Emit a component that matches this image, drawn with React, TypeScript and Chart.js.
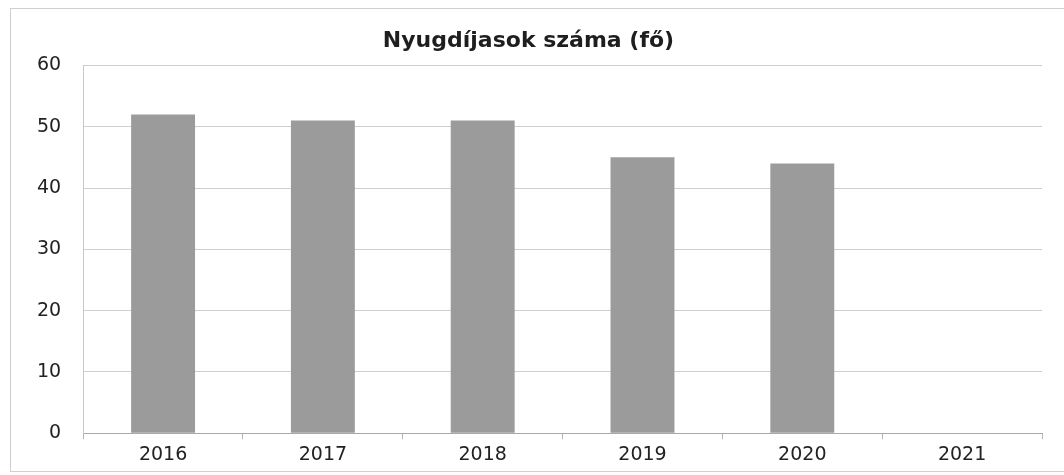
import React, { useEffect, useRef } from "react";
import { Chart, registerables } from "chart.js";

Chart.register(...registerables);

const categories = ["2016", "2017", "2018", "2019", "2020", "2021"];
const pensioners = [52, 51, 51, 45, 44, null];
const yTicks = [0, 10, 20, 30, 40, 50, 60];
const titleText = "Nyugdíjasok száma (fő)";

export default function App() {
  const ref = useRef<HTMLCanvasElement | null>(null);

  useEffect(() => {
    if (!ref.current) return;
    const chart = new Chart(ref.current, {
      type: "bar",
      data: {
        labels: categories,
        datasets: [
          {
            label: titleText,
            data: pensioners as any,
            backgroundColor: "#9b9b9b",
            borderWidth: 0,
            barPercentage: 0.8,
            categoryPercentage: 0.5,
          },
        ],
      },
      options: {
        animation: false,
        responsive: false,
        maintainAspectRatio: false,
        layout: { padding: { left: 15, right: 22, top: 28, bottom: 5 } },
        plugins: {
          legend: { display: false },
          tooltip: { enabled: false },
          title: {
            display: true,
            text: titleText,
            color: "#1e1e1e",
            font: { family: "'DejaVu Sans', sans-serif", size: 22, weight: "bold" },
            padding: { top: 0, bottom: 11 },
          },
        },
        scales: {
          x: {
            grid: {
              display: true,
              drawOnChartArea: false,
              drawTicks: true,
              tickLength: 6,
              color: "#b5b5b5",
              offset: true,
            },
            border: { display: true, color: "#a8a8a8" },
            ticks: {
              color: "#222",
              font: { family: "'DejaVu Sans', sans-serif", size: 19 },
              padding: 4,
            },
          },
          y: {
            min: 0,
            max: 60,
            afterBuildTicks: (axis: any) => {
              axis.ticks = yTicks.map((v) => ({ value: v }));
            },
            grid: { color: "#cfcfcf", drawTicks: false },
            border: { display: true, color: "#c8c8c8" },
            ticks: {
              color: "#222",
              font: { family: "'DejaVu Sans', sans-serif", size: 19 },
              padding: 22,
            },
          },
        },
      },
    });
    return () => chart.destroy();
  }, []);

  return (
    <div style={{ position: "absolute", left: 0, top: 0, width: 1064, height: 475, background: "#fff" }}>
      <div
        style={{
          position: "absolute",
          left: 10,
          top: 8,
          width: 1060,
          height: 462,
          borderLeft: "1px solid #cfcfcf",
          borderTop: "1px solid #cfcfcf",
          borderBottom: "1px solid #cfcfcf",
        }}
      />
      <canvas ref={ref} width={1064} height={475} style={{ position: "absolute", left: 0, top: 0 }} />
    </div>
  );
}
